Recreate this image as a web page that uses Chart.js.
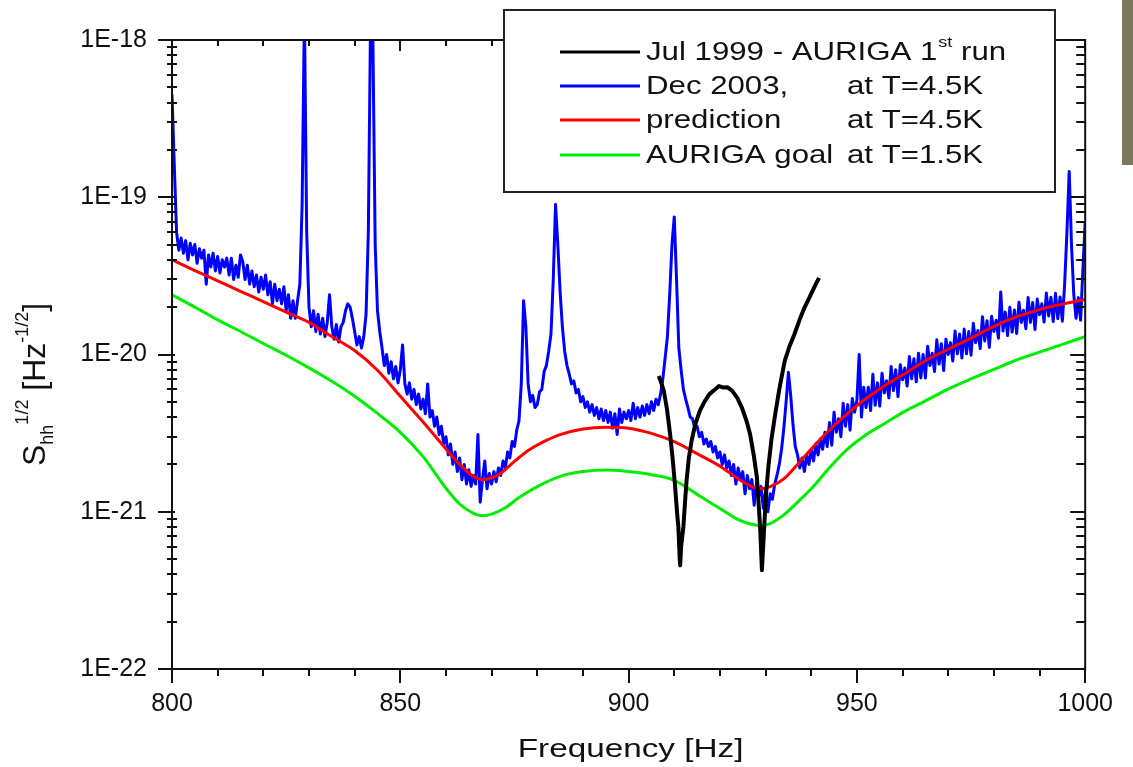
<!DOCTYPE html>
<html><head><meta charset="utf-8">
<script src="https://cdn.jsdelivr.net/npm/chart.js@4.4.1/dist/chart.umd.min.js"></script>
<style>html,body{margin:0;padding:0;background:#fff;}#wrap{width:1133px;height:767px;position:relative;}</style>
</head><body><div id="wrap"><canvas id="c" width="1133" height="767"></canvas></div>
<script>
// ---- tick labels / texts ----
const xTickValues = [800, 850, 900, 950, 1000];
const xTickLabels = ['800', '850', '900', '950', '1000'];
const xMinorStep = 10;
const yTickValues = [1e-22, 1e-21, 1e-20, 1e-19, 1e-18];
const yTickLabels = ['1E-22', '1E-21', '1E-20', '1E-19', '1E-18'];
const xTitle = 'Frequency [Hz]';
const seriesNames = ['Jul 1999 - AURIGA 1', 'Dec 2003,', 'prediction', 'AURIGA goal'];
const seriesNotes = ['run', 'at T=4.5K', 'at T=4.5K', 'at T=1.5K'];
const seriesColors = ['#000000', '#0000ff', '#ff0000', '#00ee00'];

// values are in units of 1e-21 Hz^-1/2
const UNIT = 1e-21;

// Jul 1999 (black)
const blackHz = [906.6,907.0,907.7,908.4,909.1,909.7,910.2,910.6,910.9,911.2,911.3,911.5,912.0,912.4,912.7,913.2,913.8,914.6,915.6,916.6,917.7,918.8,919.8,920.6,921.6,922.7,923.8,924.8,925.8,926.6,927.4,928.1,928.5,928.8,929.1,929.2,929.4,929.7,930.1,930.6,931.3,932.0,933.0,934.2,935.2,936.3,937.4,938.5,939.6,940.6,941.7];
const blackVal = [7.3,6.8,5.9,4.5,3.1,2.1,1.43,1.0,0.8,0.5,0.456,0.6,0.8,1.2,1.58,2.2,2.83,3.6,4.38,5.0,5.6,5.95,6.3,6.17,6.2,5.87,5.3,4.6,3.8,3.12,2.3,1.66,1.1,0.8,0.5,0.425,0.55,0.8,1.3,1.91,2.9,3.98,6.0,9.1,11.2,13.4,16.5,19.8,23,26.5,30.7];

// Dec 2003 (blue), sampled every 0.5 Hz from 800 Hz
const blueStartHz = 800, blueStepHz = 0.5;
const blueVal = [
450,160,60,46,55,44,53,40,51,43,50,38,47,41,46,28,43,36,44,34,
42,33,40,36,41,32,41,30,37,31,43,39,30,37,28,34,27,32,25,31,
26,32,24,29,21,28,22,26,21,27,19,24,17,22,17,22,28,90,1500,60,
20,15,19,14,18,13.5,17,13,16,24,15,12.5,15.5,12,15,16,19,21,20,17,
14,11.5,13,11,13,18,60,1500,1000,50,19,14,11,8.5,10,7.6,9,7,8.4,6.6,
8,11.5,6.5,5.6,6.6,5.2,6,4.8,5.6,4.5,5.2,4.2,6.5,4,4.4,3.5,4,3.1,3.5,2.7,
3,2.3,2.7,2,2.4,1.8,2.2,1.6,2,1.5,1.85,1.45,1.7,1.5,3.1,1.15,1.6,2.1,1.4,1.75,
1.5,1.8,1.55,1.9,1.7,2.1,1.9,2.4,2.2,2.8,2.6,3.3,3.8,6.5,22,15,6.5,5,5.5,4.6,
4.8,5.8,6,7.8,8.5,10.5,13.5,30,90,50,25,15,10.5,8.5,7.5,6.5,6.8,5.7,6,5,
5.4,4.6,5,4.3,4.8,4.1,4.6,3.9,4.5,3.8,4.4,3.7,4.3,3.4,4.2,3.1,4.5,3.7,4.3,3.9,
4.4,3.8,4.9,3.9,4.6,4,4.7,4.1,4.8,4.2,5,4.4,5.2,4.8,5.6,7,9.5,13,24,50,
75,30,11,8,6,5.2,4.6,4,3.9,3.4,3.5,3,3.2,2.7,2.9,2.6,2.8,2.4,2.6,2.2,
2.4,2,2.3,1.9,2.1,1.7,2,1.5,1.9,1.6,1.8,1.3,1.7,1.4,1.6,1.1,1.5,1.25,1.45,1.05,
1.35,1,1.3,1.2,1.5,1.7,2,2.5,3.4,5,7.7,5.5,3.6,2.6,2.3,1.9,2.2,1.8,2.3,2,
2.5,2.1,2.7,2.3,2.9,2.5,3.2,2.6,3.7,2.65,4.3,3.2,3.9,3,4.9,3.5,4.8,3.3,5.25,4.3,
5.1,10,4,6.2,4.6,6.2,4.4,7.5,4.75,6.6,4.7,7.6,5.7,6.8,5.3,8.4,5.9,8,5.4,8.6,
6.9,8.2,6.3,9.7,7,9.4,6.7,10.2,7.1,10,7.1,11.3,8.5,10.2,7.8,12.4,8.7,11.7,7.9,12.5,
10,11.9,9.1,14.1,10.1,13.5,9.5,14.5,10.1,14,9.9,15.8,11.9,14.2,10.9,17.4,12.2,16.4,11.1,17.5,
14,16.5,12.7,25,14.1,18.6,13.2,20,13.9,19.2,13.6,21.5,16,19.1,14.6,23,16,21.4,14.4,22.5,
17.9,21,16.1,24.6,17.6,23.1,16.2,24.5,16.9,23.2,16.3,28,60,146,50,24,17,23,16.5,35,
70];

// prediction at 4.5 K (red)
const redHz = [800,805,810,815,820,825,830,835,840,845,850,855,860,863,866,868,870,872,875,878,881,885,890,895,900,905,910,915,920,924,927,929,931,934,937,940,944,948,952,956,960,965,970,975,980,985,990,995,1000];
const redVal = [40,34.2,29.4,25.2,21.7,18.6,16,13,10.6,7.94,5.43,3.72,2.51,2.0,1.68,1.60,1.64,1.76,2.09,2.45,2.75,3.09,3.36,3.45,3.4,3.15,2.79,2.34,1.95,1.62,1.445,1.40,1.445,1.62,2.0,2.51,3.31,4.22,5.25,6.31,7.41,9.12,10.8,12.7,15.1,17.4,19.3,20.9,22.4];

// AURIGA goal at 1.5 K (green)
const greenHz = [800,805,810,815,820,825,830,835,840,845,850,855,860,863,866,868,870,873,876,880,885,890,895,900,905,910,915,920,924,927,929,931,934,937,940,944,948,952,956,960,965,970,975,980,985,990,995,1000];
const greenVal = [24.0,20.0,16.6,14.0,11.75,9.89,8.22,6.76,5.43,4.22,3.20,2.24,1.41,1.12,0.977,0.944,0.966,1.06,1.23,1.445,1.68,1.80,1.84,1.80,1.72,1.585,1.29,1.05,0.891,0.832,0.817,0.841,0.955,1.15,1.40,1.905,2.51,3.09,3.63,4.27,5.07,6.03,7.0,8.04,9.23,10.35,11.6,13.0];

if (blueVal.length !== 401) throw new Error('blue length ' + blueVal.length);

const pts = (hz, val) => hz.map((f, i) => ({x: f, y: val[i] * UNIT}));
const blueData = blueVal.map((v, i) => ({x: blueStartHz + i * blueStepHz, y: v * UNIT}));

const FONT = "'Liberation Sans', Arial, sans-serif";
const INK = '#111111';

function stretchedText(ctx, txt, x, y, sx, align) {
  ctx.save();
  const w = ctx.measureText(txt).width * sx;
  let x0 = x;
  if (align === 'center') x0 = x - w / 2;
  ctx.translate(x0, y);
  ctx.scale(sx, 1);
  ctx.textAlign = 'left';
  ctx.fillText(txt, 0, 0);
  ctx.restore();
  return w;
}

const framePlugin = {
  id: 'frame',
  afterDatasetsDraw(chart) {
    const ctx = chart.ctx;
    const {left, right, top, bottom} = chart.chartArea;
    const xs = chart.scales.x, ys = chart.scales.y;
    ctx.save();
    ctx.strokeStyle = INK;
    ctx.lineWidth = 2;
    ctx.beginPath();
    ctx.rect(left, top, right - left, bottom - top);
    ctx.stroke();
    ctx.beginPath();
    for (let f = xs.min; f <= xs.max + 1e-9; f += xMinorStep) {
      const px = Math.round(xs.getPixelForValue(f));
      const major = xTickValues.includes(f);
      ctx.moveTo(px, bottom); ctx.lineTo(px, bottom + (major ? 14 : 7));
      ctx.moveTo(px, top); ctx.lineTo(px, top + (major ? 11 : 6));
    }
    const dMin = Math.round(Math.log10(ys.min)), dMax = Math.round(Math.log10(ys.max));
    for (let d = dMin; d <= dMax; d++) {
      for (let m = 1; m <= 9; m++) {
        if (d === dMax && m > 1) break;
        const py = Math.round(ys.getPixelForValue(m * Math.pow(10, d)));
        if (m === 1) {
          ctx.moveTo(left - 14, py); ctx.lineTo(left + 3, py);
          ctx.moveTo(right - 15, py); ctx.lineTo(right, py);
        } else {
          ctx.moveTo(left - 5, py); ctx.lineTo(left + 5, py);
          ctx.moveTo(right - 9, py); ctx.lineTo(right, py);
        }
      }
    }
    ctx.stroke();
    ctx.restore();
  },
  afterDraw(chart) {
    const ctx = chart.ctx;
    const {left, right} = chart.chartArea;
    ctx.save();
    // grey strip at the right edge
    ctx.fillStyle = '#7a775e';
    ctx.fillRect(1122, 0, 11, 165);

    // legend box
    const bx = 504, by = 10, bw = 551, bh = 182;
    ctx.fillStyle = '#ffffff';
    ctx.fillRect(bx, by, bw, bh);
    ctx.strokeStyle = '#222';
    ctx.lineWidth = 2;
    ctx.strokeRect(bx, by, bw, bh);
    const rows = [52, 86, 120, 155];
    ctx.textBaseline = 'middle';
    ctx.fillStyle = INK;
    rows.forEach((ry, i) => {
      ctx.strokeStyle = seriesColors[i];
      ctx.lineWidth = 3;
      ctx.beginPath(); ctx.moveTo(560, ry); ctx.lineTo(640, ry); ctx.stroke();
      ctx.fillStyle = INK;
      ctx.font = '26px ' + FONT;
      let w = stretchedText(ctx, seriesNames[i], 646, ry + 1, 1.2, 'left');
      if (i === 0) {
        ctx.font = '15px ' + FONT;
        const w2 = stretchedText(ctx, 'st', 646 + w + 1, ry - 9, 1.2, 'left');
        ctx.font = '26px ' + FONT;
        stretchedText(ctx, ' ' + seriesNotes[0], 646 + w + 1 + w2, ry + 1, 1.2, 'left');
      } else {
        stretchedText(ctx, seriesNotes[i], 847, ry + 1, 1.2, 'left');
      }
    });

    // x title
    ctx.fillStyle = INK;
    ctx.textBaseline = 'alphabetic';
    ctx.font = '26px ' + FONT;
    stretchedText(ctx, xTitle, (left + right) / 2 + 2, 757, 1.28, 'center');

    // y title (rotated, with sub/superscripts)
    ctx.save();
    ctx.translate(45, 466);
    ctx.rotate(-Math.PI / 2);
    ctx.textBaseline = 'alphabetic';
    const parts = [
      {t: 'S', s: 32, dy: 0},
      {t: 'hh', s: 18, dy: 8},
      {t: '1/2', s: 18, dy: -17},
      {t: ' [Hz', s: 32, dy: 0},
      {t: '-1/2', s: 18, dy: -17},
      {t: ']', s: 32, dy: 0}
    ];
    let cx = 0;
    parts.forEach(p => {
      ctx.font = p.s + 'px ' + FONT;
      ctx.fillText(p.t, cx, p.dy);
      cx += ctx.measureText(p.t).width;
    });
    ctx.restore();
    ctx.restore();
  }
};

const ds = (label, data, color, width, order, smooth) => ({
  label, data, borderColor: color, backgroundColor: color, borderWidth: width,
  pointRadius: 0, fill: false, order, borderJoinStyle: 'round',
  tension: 0, cubicInterpolationMode: smooth ? 'monotone' : 'default'
});

new Chart(document.getElementById('c').getContext('2d'), {
  type: 'line',
  data: {
    datasets: [
      ds(seriesNames[0], pts(blackHz, blackVal), seriesColors[0], 4, 0, false),
      ds(seriesNames[1], blueData, seriesColors[1], 3, 3, false),
      ds(seriesNames[2], pts(redHz, redVal), seriesColors[2], 3, 1, true),
      ds(seriesNames[3], pts(greenHz, greenVal), seriesColors[3], 3, 2, true)
    ]
  },
  options: {
    responsive: false,
    animation: false,
    devicePixelRatio: 1,
    layout: {padding: {left: 0, top: 38, right: 30, bottom: 0}},
    plugins: {legend: {display: false}, tooltip: {enabled: false}},
    scales: {
      x: {
        type: 'linear', min: 800, max: 1000,
        grid: {display: false, drawTicks: false},
        border: {display: false},
        afterBuildTicks: s => { s.ticks = xTickValues.map(v => ({value: v})); },
        afterFit: s => { s.height = 98; },
        ticks: {
          padding: 20, maxRotation: 0, autoSkip: false, color: INK,
          font: {family: FONT, size: 25},
          callback: (v) => xTickLabels[xTickValues.indexOf(v)]
        }
      },
      y: {
        type: 'logarithmic', min: 1e-22, max: 1e-18,
        grid: {display: false, drawTicks: false},
        border: {display: false},
        afterBuildTicks: s => { s.ticks = yTickValues.map(v => ({value: v})); },
        afterFit: s => { s.width = 172; },
        ticks: {
          padding: 25, autoSkip: false, color: INK,
          font: {family: FONT, size: 25},
          callback: (v, i) => yTickLabels[i]
        }
      }
    }
  },
  plugins: [framePlugin]
});
</script>
</body></html>
